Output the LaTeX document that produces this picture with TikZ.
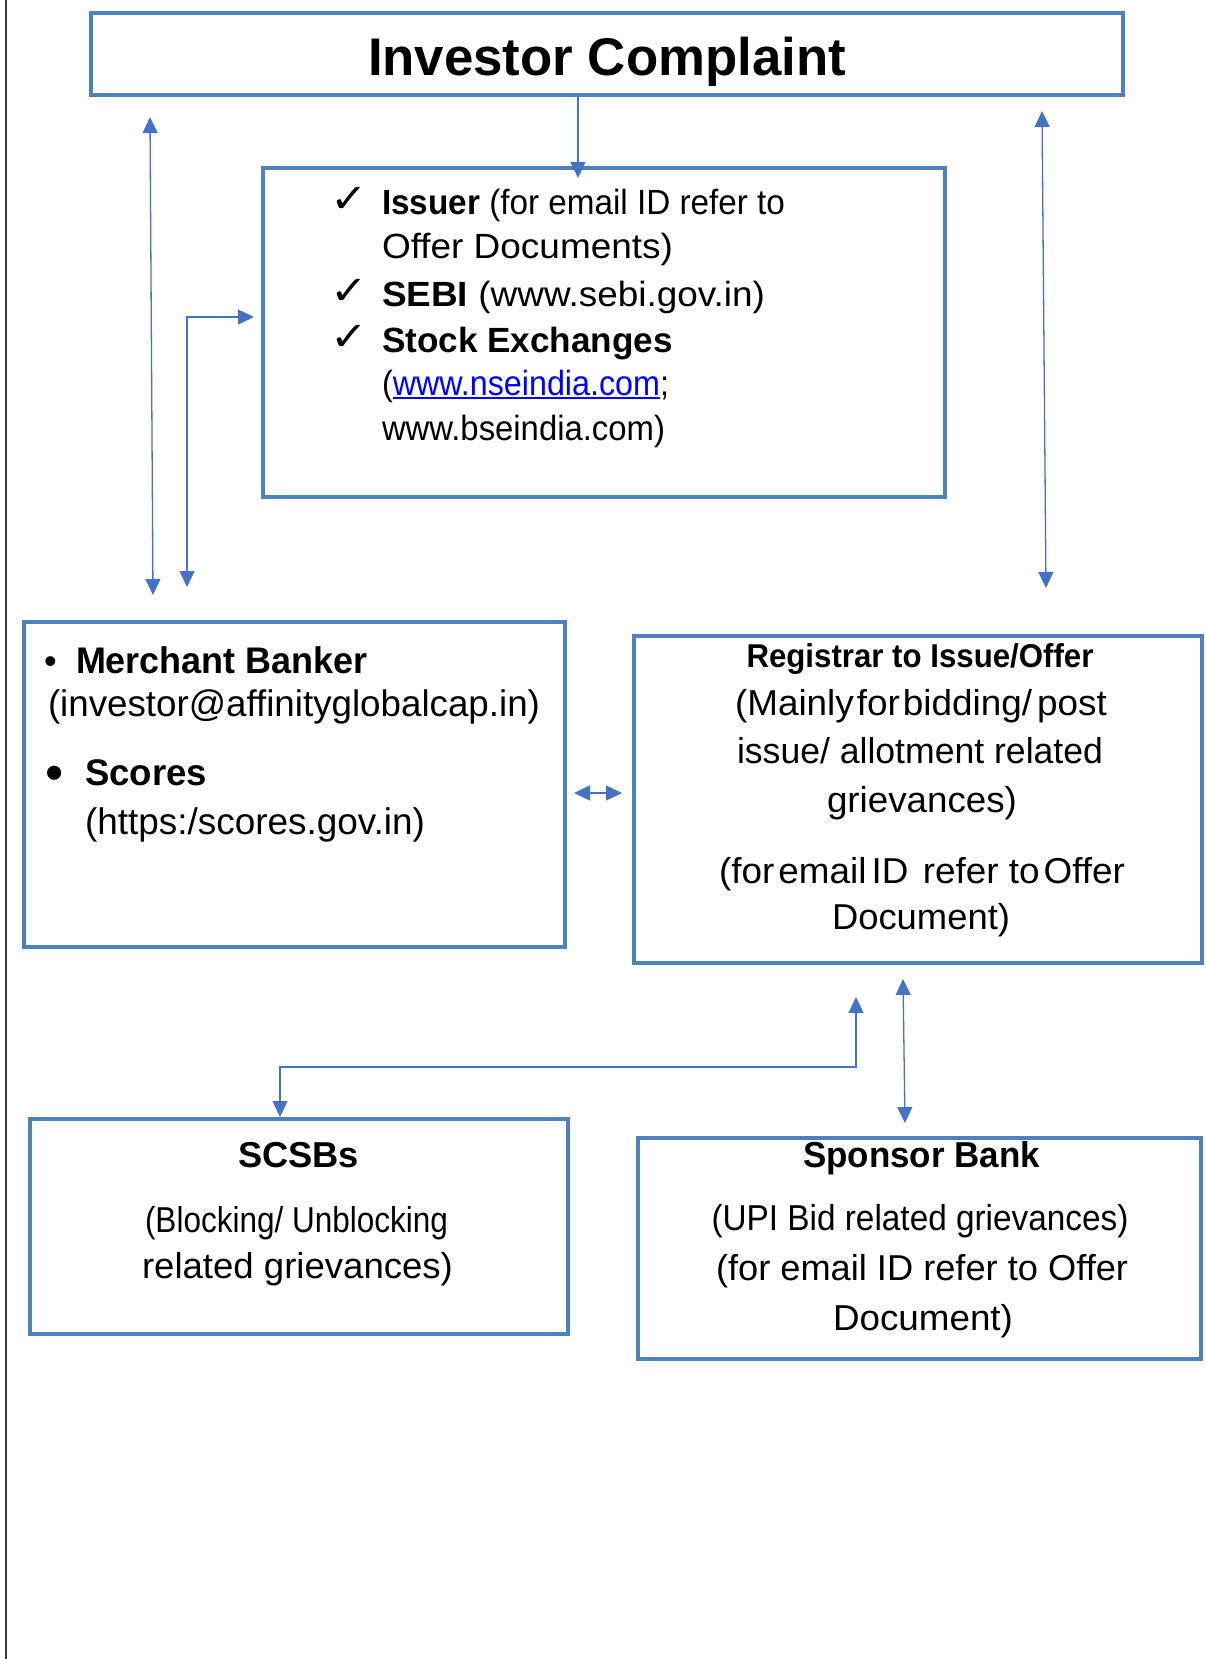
\documentclass[tikz,border=0pt]{standalone}
\usepackage{fontspec}
\setmainfont{Liberation Sans}
\newfontfamily\dejavu{DejaVu Sans}
\usetikzlibrary{arrows.meta}
\definecolor{boxcol}{RGB}{79,129,189}
\definecolor{arrcol}{RGB}{68,114,196}
\definecolor{linkcol}{RGB}{0,0,255}
\definecolor{edgecol}{RGB}{60,60,60}
\newsavebox\fitbox
\newsavebox\lnkbox
\newcommand\fitw[2]{\sbox\fitbox{#2}\scalebox{\fpeval{(#1)/(\the\wd\fitbox)}}[1]{\usebox\fitbox}}
\newcommand\ulink[1]{{\color{linkcol}\sbox\lnkbox{#1}\rlap{\rule[-4pt]{\wd\lnkbox}{2pt}}\usebox\lnkbox}}
\newcommand\fs[1]{\fontsize{#1}{#1}\selectfont}
\tikzset{
  boxnode/.style={draw=boxcol, line width=4.5pt, inner sep=0pt, rectangle},
  arr/.style={draw=arrcol, line width=1.3pt, -{Triangle[length=16pt,width=15pt]}},
  darr/.style={draw=arrcol, line width=1.3pt, {Triangle[length=16pt,width=15pt]}-{Triangle[length=16pt,width=15pt]}},
  txt/.style={inner sep=0pt, outer sep=0pt, anchor=base},
  ltxt/.style={inner sep=0pt, outer sep=0pt, anchor=base west},
  chk/.style={inner sep=0pt, outer sep=0pt, anchor=base west, font=\dejavu\fs{40}},
}
\begin{document}
\begin{tikzpicture}[x=1pt,y=-1pt]
\useasboundingbox (0,0) rectangle (1205,1659);
\fill[white] (0,0) rectangle (1205,1659);
\draw[edgecol, line width=1.5pt] (6,0) -- (6,1659);

% boxes
\node[boxnode, minimum width=1032pt, minimum height=82pt] (title) at (607,54) {};
\node[boxnode, minimum width=682pt, minimum height=329pt] (mid) at (604,332.5) {};
\node[boxnode, minimum width=541pt, minimum height=325pt] (merch) at (294.5,784.5) {};
\node[boxnode, minimum width=568pt, minimum height=327pt] (reg) at (918,799.5) {};
\node[boxnode, minimum width=538pt, minimum height=215pt] (scsb) at (299,1226.5) {};
\node[boxnode, minimum width=563pt, minimum height=221pt] (spons) at (919.5,1248.5) {};

% title text
\node[txt, font=\fs{53}\bfseries] (ttl) at (607,76) {\fitw{478}{Investor Complaint}};

% middle box text
\node[chk] (c1) at (330,212) {\scalebox{1.12}[1]{✓}};
\node[chk] (c2) at (330,304) {\scalebox{1.12}[1]{✓}};
\node[chk] (c3) at (330,350) {\scalebox{1.12}[1]{✓}};
\node[ltxt, font=\fs{35}] (m1) at (382,214) {\fitw{403}{\textbf{Issuer} (for email ID refer to}};
\node[ltxt, font=\fs{35}] (m2) at (382,258) {\fitw{291}{Offer Documents)}};
\node[ltxt, font=\fs{35}] (m3) at (382,306) {\fitw{383}{\textbf{SEBI} (www.sebi.gov.in)}};
\node[ltxt, font=\fs{35}\bfseries] (m4) at (382,352) {\fitw{291}{Stock Exchanges}};
\node[ltxt, font=\fs{35}] (m5) at (382,395) {\fitw{287}{(\ulink{www.nseindia.com};}};
\node[ltxt, font=\fs{35}] (m6) at (382,440) {\fitw{283}{www.bseindia.com)}};

% merchant box text
\node[ltxt, font=\fs{36}] (mb1) at (44,673) {•};
\node[ltxt, font=\fs{37}\bfseries] (mt1) at (76,673) {\fitw{292}{Merchant Banker}};
\node[ltxt, font=\fs{37}] (mt2) at (48,716) {\fitw{492}{(investor@affinityglobalcap.in)}};
\node[ltxt, font=\fs{52}] (mb2) at (45,790) {•};
\node[ltxt, font=\fs{37}\bfseries] (mt3) at (85,785) {\fitw{122}{Scores}};
\node[ltxt, font=\fs{37}] (mt4) at (85,834) {\fitw{340}{(https:/scores.gov.in)}};

% registrar text
\node[txt, font=\fs{33}\bfseries] (r1) at (920,667) {\fitw{347}{Registrar to Issue/Offer}};
\node[txt, font=\fs{36}] (r2) at (921,715) {\fitw{372}{(Mainly\hspace{3pt}for\hspace{3pt}bidding/\hspace{5pt}post}};
\node[txt, font=\fs{36}] (r3) at (920,763) {\fitw{366}{issue/ allotment related}};
\node[txt, font=\fs{36}] (r4) at (922,812) {\fitw{190}{grievances)}};
\node[txt, font=\fs{36}] (r5) at (922,883) {\fitw{406}{(for\hspace{4pt}email\hspace{5pt}ID\hspace{14pt}refer to\hspace{4pt}Offer}};
\node[txt, font=\fs{36}] (r6) at (921,929) {\fitw{178}{Document)}};

% SCSBs text
\node[txt, font=\fs{36}\bfseries] (s1) at (298.5,1167) {\fitw{121}{SCSBs}};
\node[txt, font=\fs{36}] (s2) at (296.5,1232) {\fitw{303}{(Blocking/ Unblocking}};
\node[txt, font=\fs{36}] (s3) at (297.5,1278) {\fitw{311}{related grievances)}};

% Sponsor text
\node[txt, font=\fs{36}\bfseries] (p1) at (921.5,1167) {\fitw{237}{Sponsor Bank}};
\node[txt, font=\fs{36}] (p2) at (920,1230) {\fitw{417}{(UPI Bid related grievances)}};
\node[txt, font=\fs{36}] (p3) at (922,1280) {\fitw{412}{(for email ID refer to Offer}};
\node[txt, font=\fs{36}] (p4) at (923,1330) {\fitw{180}{Document)}};

% connector end points
\coordinate (ta) at (578,178);
\coordinate (lt) at (150,117);
\coordinate (lb) at (153,595);
\coordinate (mi) at (254,317);
\coordinate (mb) at (187,587);
\coordinate (rt) at (1042,111);
\coordinate (rb) at (1046,588);
\coordinate (hl) at (574,793);
\coordinate (hr) at (622,793);
\coordinate (ru) at (856,997);
\coordinate (fy) at (0,1067);
\coordinate (sd) at (280,1117);
\coordinate (vt) at (903,979);
\coordinate (vb) at (905,1123);

% connectors
\draw[arr] (ta |- title.south) -- (ta);
\draw[darr] (lt) -- (lb);
\draw[darr] (mi) -- (mb |- mi) -- (mb);
\draw[darr] (rt) -- (rb);
\draw[darr] (hl) -- (hr);
\draw[darr] (ru) -- (ru |- fy) -- (sd |- fy) -- (sd);
\draw[darr] (vt) -- (vb);
\end{tikzpicture}
\end{document}
